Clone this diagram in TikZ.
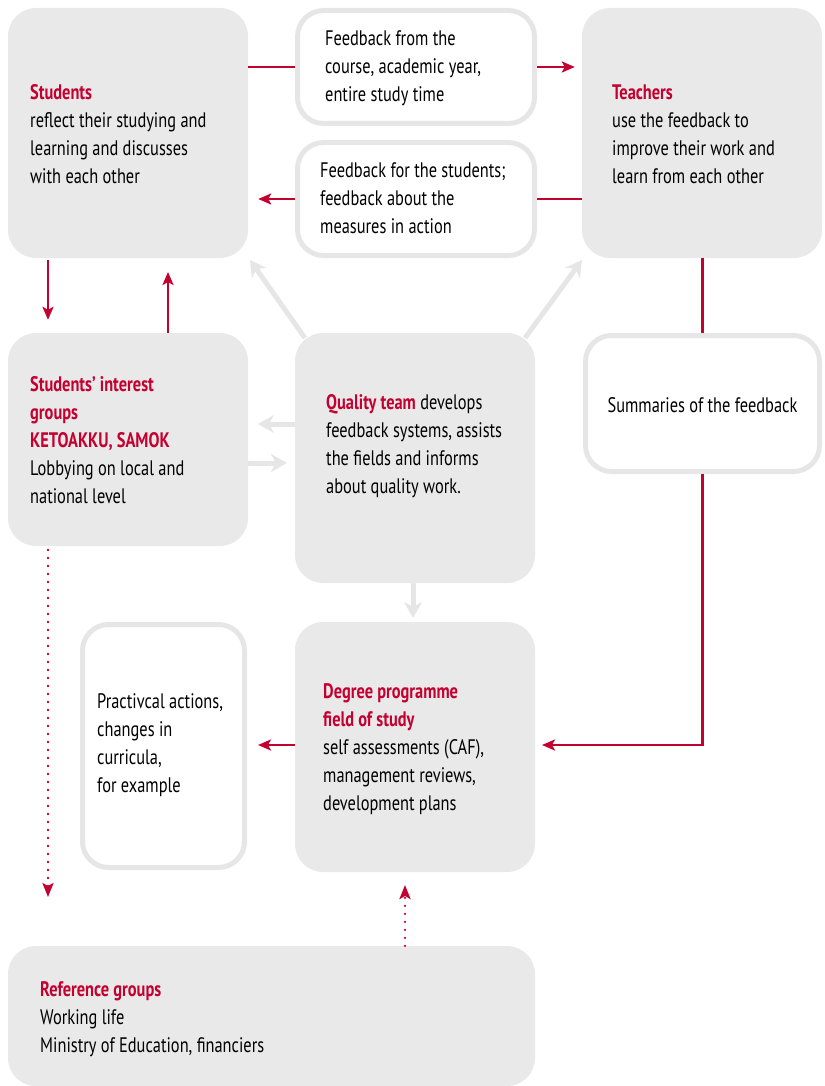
\documentclass[tikz,border=0pt]{standalone}
\usepackage{fontspec}
\setmainfont[FakeStretch=0.78]{PT Sans}
\usetikzlibrary{arrows.meta}
\definecolor{myred}{RGB}{196,0,48}
\definecolor{boxgrey}{RGB}{233,233,233}
\definecolor{linegrey}{RGB}{230,230,230}
\newcommand{\hd}[1]{\textcolor{myred}{\bfseries #1}}
\begin{document}
\begin{tikzpicture}[x=1pt,y=-1pt,
  gbox/.style={fill=boxgrey, rounded corners=28pt, inner sep=0pt},
  wbox/.style={fill=white, draw=linegrey, line width=5pt, rounded corners=26pt, inner sep=0pt},
  txt/.style={anchor=west, align=left, inner sep=0pt, font=\fontsize{21}{28}\selectfont},
  redline/.style={draw=myred, line width=2.5pt},
  redarr/.style={redline, -{Stealth[length=13pt,width=11pt,inset=3pt]}},
  dotarr/.style={draw=myred, line width=2.6pt, line cap=round, dash pattern=on 0pt off 8pt, -{Stealth[length=14pt,width=11pt,inset=3pt]}},
  greyarr/.style={draw=linegrey, line width=5pt, -{Stealth[length=16pt,width=18pt,inset=5pt]}}
]
\useasboundingbox (0,0) rectangle (824,1086);

% boxes
\node[gbox, minimum width=240pt, minimum height=250pt] (students) at (128,133) {};
\node[gbox, minimum width=240pt, minimum height=250pt] (teachers) at (702,133) {};
\node[wbox, minimum width=237pt, minimum height=113pt] (feedA) at (416,67) {};
\node[wbox, minimum width=237pt, minimum height=113pt] (feedB) at (416,199) {};
\node[gbox, minimum width=240pt, minimum height=213pt] (interest) at (128,439.5) {};
\node[gbox, minimum width=240pt, minimum height=250pt] (quality) at (415,458) {};
\node[wbox, minimum width=234pt, minimum height=136pt] (summ) at (702.5,403.5) {};
\node[wbox, minimum width=162pt, minimum height=243pt] (practical) at (163.5,746) {};
\node[gbox, minimum width=240pt, minimum height=250pt] (degree) at (415,747) {};
\node[gbox, minimum width=527pt, minimum height=140pt] (reference) at (271.5,1016) {};

% texts
\node[txt] (tStudents) at (30,134) {\hd{Students}\\reflect their studying and\\learning and discusses\\with each other};
\node[txt] (tTeachers) at (612,134) {\hd{Teachers}\\use the feedback to\\improve their work and\\learn from each other};
\node[txt] (tFeedA) at (325,68) {Feedback from the\\course, academic year,\\entire study time};
\node[txt] (tFeedB) at (320,198) {Feedback for the students;\\feedback about the\\measures in action};
\node[txt] (tInterest) at (30,440) {\hd{Students’ interest}\\\hd{groups}\\\hd{KETOAKKU, SAMOK}\\Lobbying on local and\\national level};
\node[txt] (tQuality) at (326,446) {\hd{Quality team} develops\\feedback systems, assists\\the fields and informs\\about quality work.};
\node[txt, anchor=center] (tSumm) at (702.5,405) {Summaries of the feedback};
\node[txt] (tPractical) at (97,745) {Practivcal actions,\\changes in\\curricula,\\for example};
\node[txt] (tDegree) at (323,749) {\hd{Degree programme}\\\hd{field of study}\\self assessments (CAF),\\management reviews,\\development plans};
\node[txt] (tReference) at (40,1019) {\hd{Reference groups}\\Working life\\Ministry of Education, financiers};

% red connectors top
\draw[redline] (students.east |- feedA.west) -- (feedA.west);
\draw[redarr, shorten >=7pt] (feedA.east) -- (teachers.west |- feedA.east);
\draw[redline] (teachers.west |- feedB.east) -- (feedB.east);
\draw[redarr, shorten >=10pt] (feedB.west) -- (students.east |- feedB.west);

% students <-> interest
\coordinate (sA) at (48,258);
\coordinate (sB) at (168,258);
\draw[redarr, shorten <=2pt, shorten >=13pt] (sA) -- (sA |- interest.north);
\draw[redarr, shorten >=14pt] (sB |- interest.north) -- (sB);

% teachers -> summaries -> degree
\coordinate (dR) at (542,745);
\draw[redline] (summ.north |- teachers.south) -- (summ.north);
\draw[redarr] (summ.south) -- (summ.south |- dR) -- (dR);

% degree -> practical
\coordinate (pR) at (258,745);
\draw[redarr] (degree.west |- pR) -- (pR);

% grey arrows
\coordinate (q1) at (305,338);
\coordinate (q2) at (250,260);
\coordinate (q3) at (525,338);
\coordinate (q4) at (582,260);
\draw[greyarr] (q1) -- (q2);
\draw[greyarr] (q3) -- (q4);
\coordinate (gL) at (258,424);
\coordinate (gR) at (287,463);
\draw[greyarr] (quality.west |- gL) -- (gL);
\draw[greyarr] (interest.east |- gR) -- (gR);
\coordinate (gD) at (413,618);
\draw[greyarr] (gD |- quality.south) -- (gD);

% dotted arrows
\coordinate (dA) at (48,897);
\draw[dotarr] (48,550) -- (dA);
\coordinate (dB) at (405,885);
\draw[dotarr] (dB |- reference.north) -- (dB);
\end{tikzpicture}
\end{document}
